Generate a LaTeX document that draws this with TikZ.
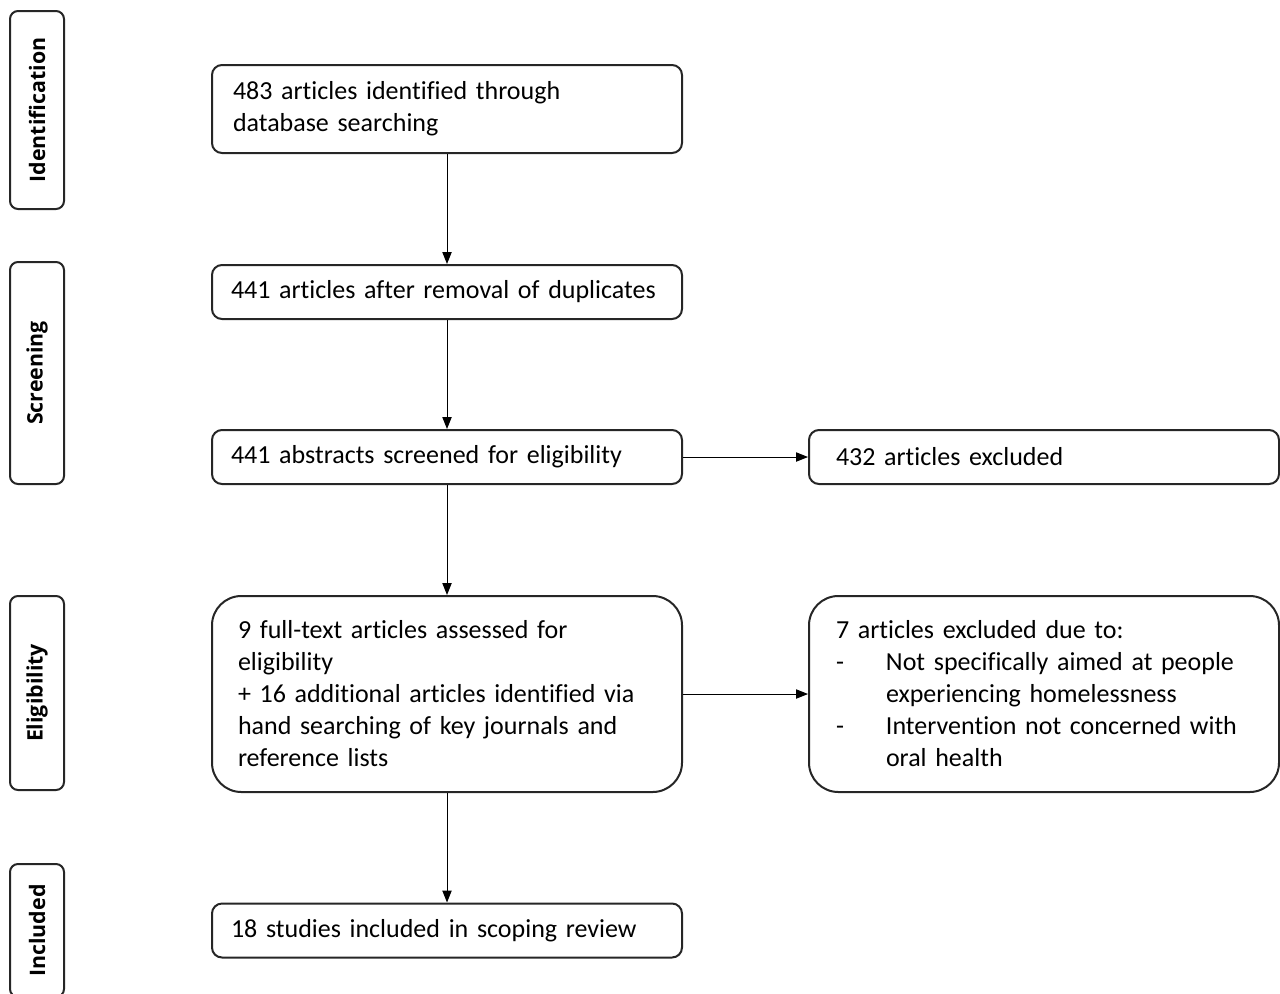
\documentclass[tikz,border=0pt]{standalone}
\usepackage{fontspec}
\setmainfont{Carlito}[Ligatures={NoCommon}]
\newfontfamily\sidefont{Open Sans}
\usetikzlibrary{arrows.meta}
\begin{document}
\begin{tikzpicture}[x=0.75pt,y=-0.75pt,
  mainbox/.style={draw=black!85, line width=1.5pt, rounded corners=7.5pt, fill=white,
    minimum width=352.5pt, align=left, font=\fontsize{19.5pt}{24pt}\selectfont, anchor=center},
  bigbox/.style={mainbox, rounded corners=22pt, minimum height=147pt},
  sidebox/.style={draw=black!85, line width=1.5pt, rounded corners=6pt, minimum width=40.5pt,
    rotate=90, font=\sidefont\bfseries\fontsize{16pt}{19pt}\selectfont, inner sep=0pt},
  conn/.style={line width=0.75pt, -{Triangle[length=9pt,width=7pt]}}
]
\useasboundingbox (0,0) rectangle (1280,993);
\begin{scope}
\clip (0,0) rectangle (1280,993);
% side labels
\node[sidebox, minimum width=148.5pt, minimum height=40.5pt] (sid) at (37,110) {Identification};
\node[sidebox, minimum width=166.5pt, minimum height=40.5pt] (sscr) at (37,373) {Screening};
\node[sidebox, minimum width=145.5pt, minimum height=40.5pt] (selig) at (37,693) {Eligibility};
\node[sidebox, minimum width=99.75pt, minimum height=40.5pt] (sinc) at (37,930.5) {Included};

% main boxes
\node[mainbox, minimum height=66pt, inner xsep=15.75pt, text width=321pt] (b1) at (447,109)
  {483 articles identified through\\database searching};
\node[mainbox, minimum height=40.5pt, inner xsep=14.25pt, text width=324pt] (b2) at (447,292)
  {441 articles after removal of duplicates};
\node[mainbox, minimum height=40.5pt, inner xsep=14.25pt, text width=324pt] (b3) at (447,457)
  {441 abstracts screened for eligibility};
\node[bigbox, inner xsep=19.5pt, text width=313.5pt] (b4) at (447,694)
  {9 full-text articles assessed for\\eligibility\\+ 16 additional articles identified via\\hand searching of key journals and\\reference lists};
\node[mainbox, minimum height=40.5pt, inner xsep=14.25pt, text width=324pt] (b7) at (447,930.5)
  {18 studies included in scoping review};
\node[mainbox, minimum height=40.5pt, inner xsep=20.25pt, text width=312pt] (b5) at (1044,457)
  {432 articles excluded};
\node[bigbox, inner xsep=20.25pt, text width=312pt] (b6) at (1044,694)
  {7 articles excluded due to:\\
   \makebox[37.5pt][l]{-}Not specifically aimed at people\\
   \hspace*{37.5pt}experiencing homelessness\\
   \makebox[37.5pt][l]{-}Intervention not concerned with\\
   \hspace*{37.5pt}oral health};

% connectors
\draw[conn] (b1.south) -- (b2.north);
\draw[conn] (b2.south) -- (b3.north);
\draw[conn] (b3.south) -- (b4.north);
\draw[conn] (b4.south) -- (b7.north);
\draw[conn] (b3.east) -- (b5.west);
\draw[conn] (b4.east) -- (b6.west);
\end{scope}
\end{tikzpicture}
\end{document}
